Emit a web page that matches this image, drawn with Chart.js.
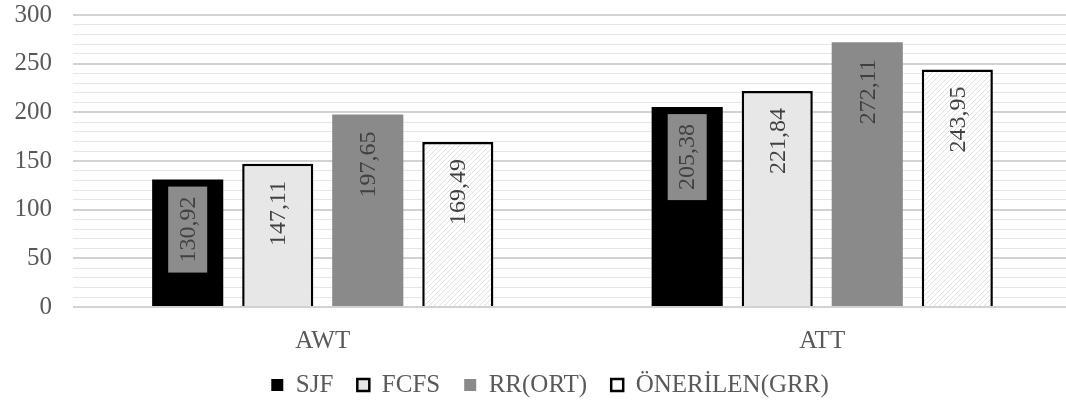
<!DOCTYPE html>
<html>
<head>
<meta charset="utf-8">
<title>AWT / ATT</title>
<script src="https://cdn.jsdelivr.net/npm/chart.js@4/dist/chart.umd.min.js"></script>
<style>
    html, body { margin: 0; padding: 0; background: #fff; overflow: hidden; }
    #wrap { width: 1072px; height: 409px; }
</style>
</head>
<body>
<div id="wrap"><canvas id="myChart"></canvas></div>
<script>
const categories = ['AWT', 'ATT'];
const seriesNames = ['SJF', 'FCFS', 'RR(ORT)', 'ÖNERİLEN(GRR)'];
const sjf = [130.92, 205.38];
const fcfs = [147.11, 221.84];
const rrOrt = [197.65, 272.11];
const grr = [169.49, 243.95];
const yTicks = [0, 50, 100, 150, 200, 250, 300];

Chart.defaults.font.family = '"Liberation Serif", "Times New Roman", serif';
Chart.defaults.color = '#595959';

// light diagonal hatch for the GRR bars
function hatch() {
    const c = document.createElement('canvas');
    c.width = 5;
    c.height = 5;
    const g = c.getContext('2d');
    g.fillStyle = '#fff';
    g.fillRect(0, 0, 5, 5);
    g.strokeStyle = '#e0e0e0';
    g.lineWidth = 1;
    g.beginPath();
    g.moveTo(0, 5); g.lineTo(5, 0);
    g.moveTo(-1, 1); g.lineTo(1, -1);
    g.moveTo(4, 6); g.lineTo(6, 4);
    g.stroke();
    return g.createPattern(c, 'repeat');
}

// vertical value labels near the top of each bar
const valueLabels = {
    id: 'valueLabels',
    afterDatasetsDraw(chart) {
        const ctx = chart.ctx;
        ctx.save();
        ctx.font = '24px "Liberation Serif", "Times New Roman", serif';
        chart.data.datasets.forEach((ds, i) => {
            chart.getDatasetMeta(i).data.forEach((bar, j) => {
                const txt = ds.data[j].toFixed(2).replace('.', ',');
                const w = ctx.measureText(txt).width;
                ctx.save();
                ctx.translate(bar.x, bar.y + 17);
                ctx.rotate(-Math.PI / 2);
                if (i === 0) {
                    ctx.fillStyle = '#8c8c8c';
                    ctx.fillRect(-w - 10, -19.5, w + 20, 39);
                }
                ctx.fillStyle = '#404040';
                ctx.textAlign = 'right';
                ctx.textBaseline = 'middle';
                ctx.fillText(txt, 0, 1);
                ctx.restore();
            });
        });
        ctx.restore();
    }
};

// legend sits a little right of the canvas centre
const shiftLegend = {
    id: 'shiftLegend',
    afterLayout(chart) {
        chart.legend.left += 28;
    }
};

const data = {
    labels: categories,
    datasets: [
        { label: seriesNames[0], data: sjf, backgroundColor: '#000000', borderWidth: 0 },
        { label: seriesNames[1], data: fcfs, backgroundColor: '#e7e7e7', borderColor: '#000000', borderWidth: 2.5 },
        { label: seriesNames[2], data: rrOrt, backgroundColor: '#8a8a8a', borderWidth: 0 },
        { label: seriesNames[3], data: grr, backgroundColor: hatch(), borderColor: '#000000', borderWidth: 2.5 }
    ]
};

const config = {
    type: 'bar',
    data: data,
    options: {
        responsive: true,
        maintainAspectRatio: false,
        animation: false,
        devicePixelRatio: 1,
        datasets: {
            bar: { barPercentage: 0.79, categoryPercentage: 0.721 }
        },
        layout: { padding: { top: 15, right: 0, bottom: 1.5, left: 0 } },
        scales: {
            x: {
                grid: { display: false },
                border: { display: false },
                ticks: { font: { size: 25 }, padding: 11 },
                afterFit: (scale) => { scale.height = 41.5; }
            },
            y: {
                min: yTicks[0],
                max: yTicks[yTicks.length - 1],
                border: { display: false },
                grid: {
                    drawTicks: false,
                    color: (c) => yTicks.includes(c.tick.value) ? '#d2d2d2' : '#e6e6e6',
                    lineWidth: (c) => yTicks.includes(c.tick.value) ? 2 : 1
                },
                ticks: {
                    stepSize: 10,
                    autoSkip: false,
                    padding: 21,
                    font: { size: 25 },
                    callback: (v) => yTicks.includes(v) ? v : ''
                },
                afterFit: (scale) => {
                    scale.width = 73;
                    scale.paddingTop = 0;
                    scale.paddingBottom = 0;
                }
            }
        },
        plugins: {
            tooltip: { enabled: false },
            legend: {
                position: 'bottom',
                labels: {
                    boxWidth: 12,
                    boxHeight: 12,
                    padding: 24,
                    font: { size: 25 },
                    generateLabels: (chart) => {
                        const items = Chart.defaults.plugins.legend.labels.generateLabels(chart);
                        items[3].fillStyle = '#ffffff';
                        return items;
                    }
                }
            }
        }
    },
    plugins: [valueLabels, shiftLegend]
};

const myChart = new Chart(document.getElementById('myChart'), config);
</script>
</body>
</html>
